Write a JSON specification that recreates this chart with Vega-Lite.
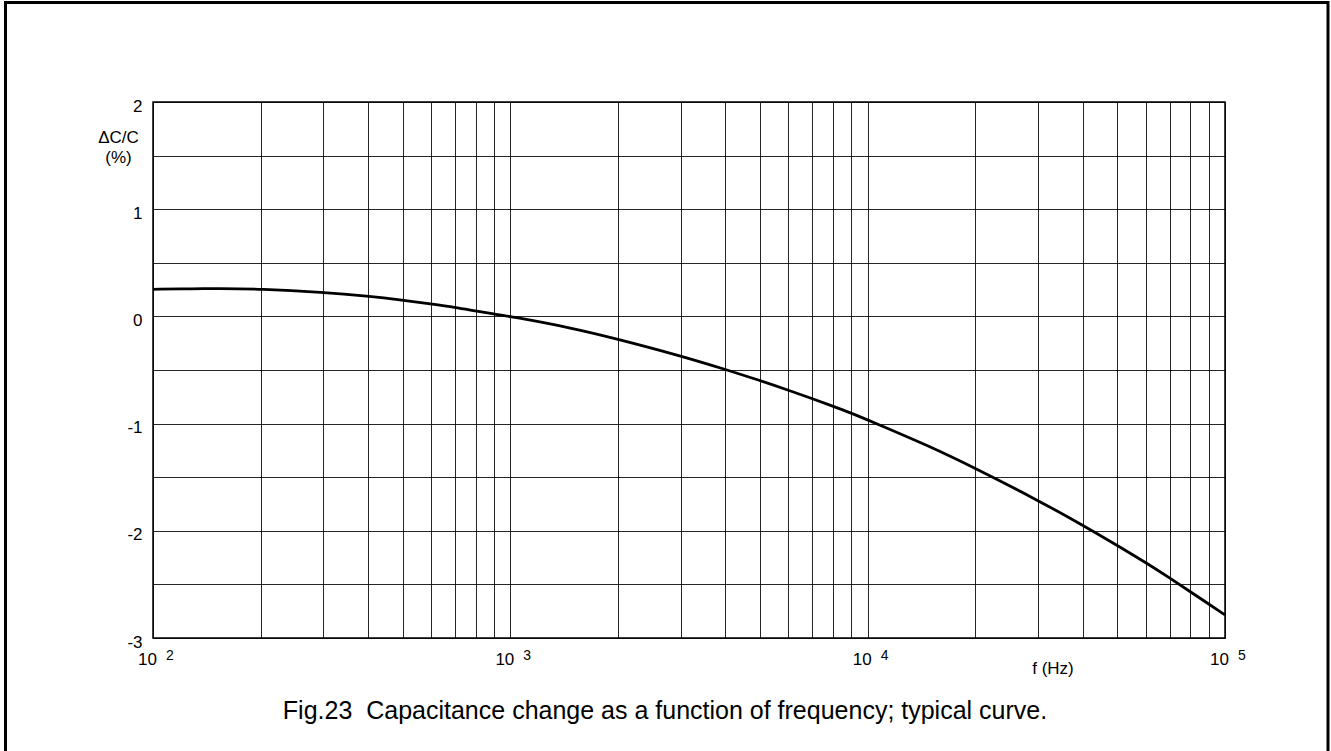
{
  "$schema": "https://vega.github.io/schema/vega-lite/v6.json",
  "width": 1072,
  "height": 536,
  "autosize": "none",
  "padding": {"left": 153, "top": 102, "right": 106, "bottom": 113},
  "background": "white",
  "config": {
    "font": "Liberation Sans",
    "view": {"stroke": "black", "strokeWidth": 1.5}
  },
  "title": {
    "text": "Fig.23\u00a0 Capacitance change as a function of frequency; typical curve.",
    "orient": "bottom",
    "anchor": "middle",
    "frame": "group",
    "dx": -24,
    "fontSize": 25,
    "fontWeight": "normal",
    "font": "Liberation Sans",
    "color": "#000",
    "baseline": "alphabetic",
    "offset": -44.5
  },
  "layer": [
    {
      "data": {
        "values": [
          {"f": 100, "v": 0.253},
          {"f": 130, "v": 0.258},
          {"f": 150, "v": 0.259},
          {"f": 200, "v": 0.256},
          {"f": 300, "v": 0.226},
          {"f": 400, "v": 0.19},
          {"f": 500, "v": 0.152},
          {"f": 600, "v": 0.116},
          {"f": 700, "v": 0.085},
          {"f": 800, "v": 0.05},
          {"f": 900, "v": 0.022},
          {"f": 1000, "v": 0.0},
          {"f": 1500, "v": -0.11},
          {"f": 2000, "v": -0.212},
          {"f": 3000, "v": -0.368},
          {"f": 4000, "v": -0.495},
          {"f": 5000, "v": -0.598},
          {"f": 6000, "v": -0.688},
          {"f": 7000, "v": -0.768},
          {"f": 8000, "v": -0.838},
          {"f": 9000, "v": -0.902},
          {"f": 10000, "v": -0.965},
          {"f": 15000, "v": -1.215},
          {"f": 20000, "v": -1.416},
          {"f": 30000, "v": -1.716},
          {"f": 40000, "v": -1.948},
          {"f": 50000, "v": -2.137},
          {"f": 60000, "v": -2.296},
          {"f": 70000, "v": -2.44},
          {"f": 80000, "v": -2.568},
          {"f": 90000, "v": -2.683},
          {"f": 100000, "v": -2.785}
        ]
      },
      "mark": {"type": "line", "color": "black", "strokeWidth": 2.8, "interpolate": "basis"},
      "encoding": {
        "x": {
          "field": "f",
          "type": "quantitative",
          "scale": {"type": "log", "domain": [100, 100000], "nice": false},
          "axis": {
            "values": [100, 200, 300, 400, 500, 600, 700, 800, 900, 1000, 2000, 3000, 4000, 5000, 6000, 7000, 8000, 9000, 10000, 20000, 30000, 40000, 50000, 60000, 70000, 80000, 90000, 100000],
            "grid": true,
            "gridColor": "#000",
            "gridWidth": 1,
            "gridOpacity": 0.85,
            "labels": false,
            "ticks": false,
            "tickSize": 0,
            "domain": false,
            "title": "f (Hz)",
            "titleX": 899.5,
            "titleY": 35,
            "titleAlign": "center",
            "titleBaseline": "alphabetic",
            "titleFontSize": 17,
            "titleFontWeight": "normal",
            "titleColor": "#000"
          }
        },
        "y": {
          "field": "v",
          "type": "quantitative",
          "scale": {"domain": [-3, 2], "nice": false, "zero": false},
          "axis": {
            "values": [-3, -2.5, -2, -1.5, -1, -0.5, 0, 0.5, 1, 1.5, 2],
            "grid": true,
            "gridColor": "#000",
            "gridWidth": 1,
            "gridOpacity": 0.85,
            "ticks": false,
            "tickSize": 0,
            "domain": false,
            "labelExpr": "datum.value % 1 === 0 ? '' + datum.value : ''",
            "labelFontSize": 17,
            "labelColor": "#000",
            "labelPadding": 11,
            "labelBaseline": "alphabetic",
            "labelOffset": 9,
            "title": ["ΔC/C", "(%)"],
            "titleAngle": 0,
            "titleX": -35,
            "titleY": 40,
            "titleAlign": "center",
            "titleBaseline": "alphabetic",
            "titleFontSize": 17,
            "titleFontWeight": "normal",
            "titleColor": "#000",
            "titleLineHeight": 20
          }
        }
      }
    },
    {
      "data": {
        "values": [
          {"f": 100, "e": "2"},
          {"f": 1000, "e": "3"},
          {"f": 10000, "e": "4"},
          {"f": 100000, "e": "5"}
        ]
      },
      "layer": [
        {
          "mark": {"type": "text", "text": "10", "align": "right", "dx": 4, "dy": 27, "baseline": "alphabetic", "fontSize": 17, "color": "#000"},
          "encoding": {
            "x": {"field": "f", "type": "quantitative"},
            "y": {"datum": -3}
          }
        },
        {
          "mark": {"type": "text", "align": "left", "dx": 13, "dy": 22, "baseline": "alphabetic", "fontSize": 14, "color": "#000"},
          "encoding": {
            "x": {"field": "f", "type": "quantitative"},
            "y": {"datum": -3},
            "text": {"field": "e"}
          }
        }
      ]
    },
    {
      "mark": {"type": "text", "text": "CBA117", "align": "right", "dx": -3, "dy": -12, "baseline": "alphabetic", "fontSize": 13, "fontStyle": "italic", "color": "#000"},
      "encoding": {
        "x": {"datum": 100000},
        "y": {"datum": 2}
      }
    },
    {
      "data": {"values": [{}]},
      "mark": {"type": "rect", "filled": false, "stroke": "black", "strokeWidth": 3},
      "encoding": {
        "x": {"value": -147.5},
        "x2": {"value": 1175},
        "y": {"value": -99.5},
        "y2": {"value": 660}
      }
    }
  ]
}
